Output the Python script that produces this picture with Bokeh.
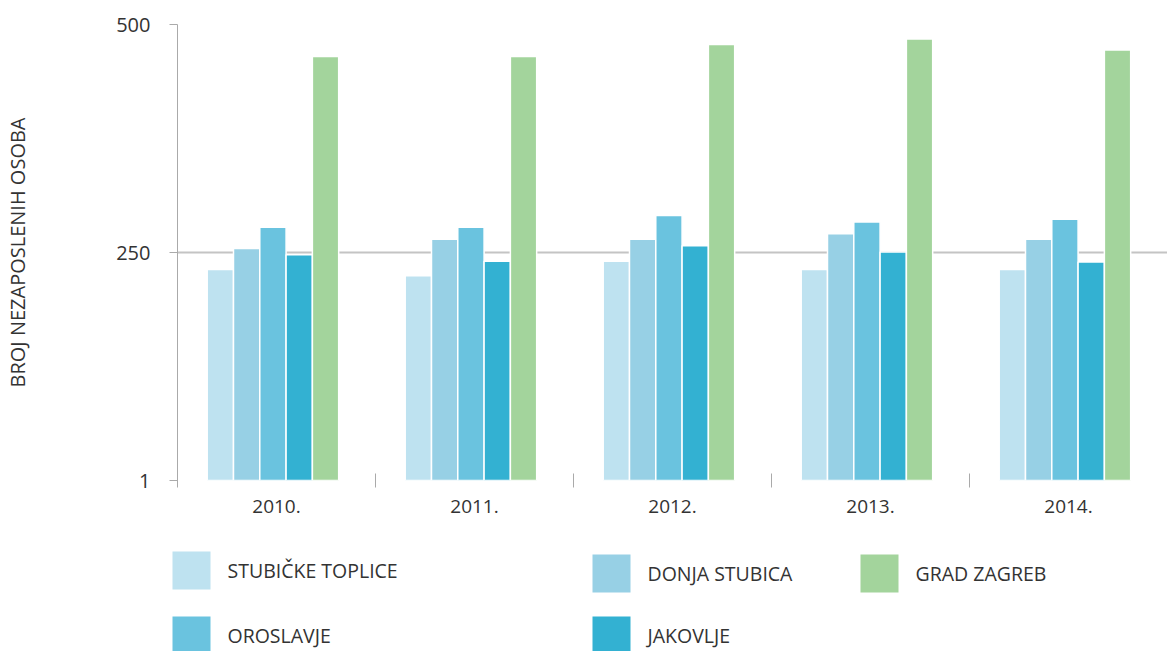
from bokeh.plotting import figure
from bokeh.models import Range1d, FixedTicker, ColumnDataSource
from bokeh.embed import file_html
from bokeh.resources import INLINE
from bokeh.core.properties import value

years = ["2010.", "2011.", "2012.", "2013.", "2014."]
series_names = ["STUBIČKE TOPLICE", "DONJA STUBICA", "OROSLAVJE", "JAKOVLJE", "GRAD ZAGREB"]
stubicke = [232, 225, 241, 232, 232]
donja = [255, 265, 265, 271, 265]
oroslavje = [278, 278, 291, 284, 287]
jakovlje = [248, 241, 258, 251, 240]
zagreb = [465, 465, 478, 484, 472]
colors = ["#bee2f0", "#97d0e5", "#6ac3df", "#33b1d2", "#a3d49c"]
y_ticks = [1, 250, 500]

FONT = "Open Sans"
TXT = "#333333"
W = 1167

p = figure(width=W, height=530, x_range=Range1d(0, 5), y_range=Range1d(1, 500),
           output_backend="svg", toolbar_location=None,
           min_border_left=177, min_border_right=0, min_border_top=24, min_border_bottom=50)
p.outline_line_color = None
p.xgrid.grid_line_color = None
p.ygrid.grid_line_color = "#c4c4c4"
p.ygrid.grid_line_width = 2
p.ygrid.ticker = FixedTicker(ticks=y_ticks)

all_series = [stubicke, donja, oroslavje, jakovlje, zagreb]
step = 0.1328
for i, vals in enumerate(all_series):
    xs = [k + 0.5 + (i - 2) * step - 0.018 for k in range(len(years))]
    src = ColumnDataSource(dict(x=xs, top=vals))
    p.vbar(x="x", top="top", bottom=1, width=step, source=src,
           fill_color=colors[i], line_color="white", line_width=1.5)

# x axis
xa = p.xaxis[0]
xa.ticker = FixedTicker(ticks=[k + 0.5 for k in range(len(years))],
                        minor_ticks=list(range(len(years) + 1)))
xa.major_label_overrides = {k + 0.5: y for k, y in enumerate(years)}
xa.axis_line_color = None
xa.major_tick_line_color = None
xa.minor_tick_line_color = "#aaaaaa"
xa.minor_tick_in = 7
xa.minor_tick_out = 7
xa.major_label_standoff = 12
xa.major_label_text_font = FONT
xa.major_label_text_font_size = "19px"
xa.major_label_text_color = TXT

ya = p.yaxis[0]
ya.ticker = FixedTicker(ticks=y_ticks)
ya.axis_line_color = "#aaaaaa"
ya.major_tick_line_color = "#aaaaaa"
ya.major_tick_in = 0
ya.major_tick_out = 8
ya.minor_tick_line_color = None
ya.major_label_standoff = 19
ya.major_label_text_font = FONT
ya.major_label_text_font_size = "20px"
ya.major_label_text_color = TXT
ya.axis_label = "BROJ NEZAPOSLENIH OSOBA"
ya.axis_label_text_font = FONT
ya.axis_label_text_font_style = "normal"
ya.axis_label_text_font_size = "20px"
ya.axis_label_text_color = TXT
ya.axis_label_standoff = 82

# legend panel (separate root, pixel coordinates)
LH = 121
leg_x = [172, 592, 860, 172, 592]
leg_y = [40, 43, 43, 105, 105]
leg_order = [0, 1, 4, 2, 3]
box = 38
text_gap = 17

lg = figure(width=W, height=LH, x_range=Range1d(0, W), y_range=Range1d(LH, 0),
            output_backend="svg", toolbar_location=None,
            min_border=0, min_border_left=0, min_border_right=0, min_border_top=0, min_border_bottom=0)
lg.axis.visible = False
lg.grid.visible = False
lg.outline_line_color = None
lsrc = ColumnDataSource(dict(
    x=[leg_x[j] + box / 2 for j in range(5)],
    y=leg_y,
    tx=[leg_x[j] + box + text_gap for j in range(5)],
    label=[series_names[leg_order[j]] for j in range(5)],
    color=[colors[leg_order[j]] for j in range(5)],
))
lg.rect(x="x", y="y", width=box, height=box, fill_color="color", line_color=None, source=lsrc)
lg.text(x="tx", y="y", text="label", text_baseline="middle", text_font=value(FONT),
        text_font_size="19.5px", text_color=TXT, source=lsrc)

open("out.html", "w").write(file_html([p, lg], INLINE))
